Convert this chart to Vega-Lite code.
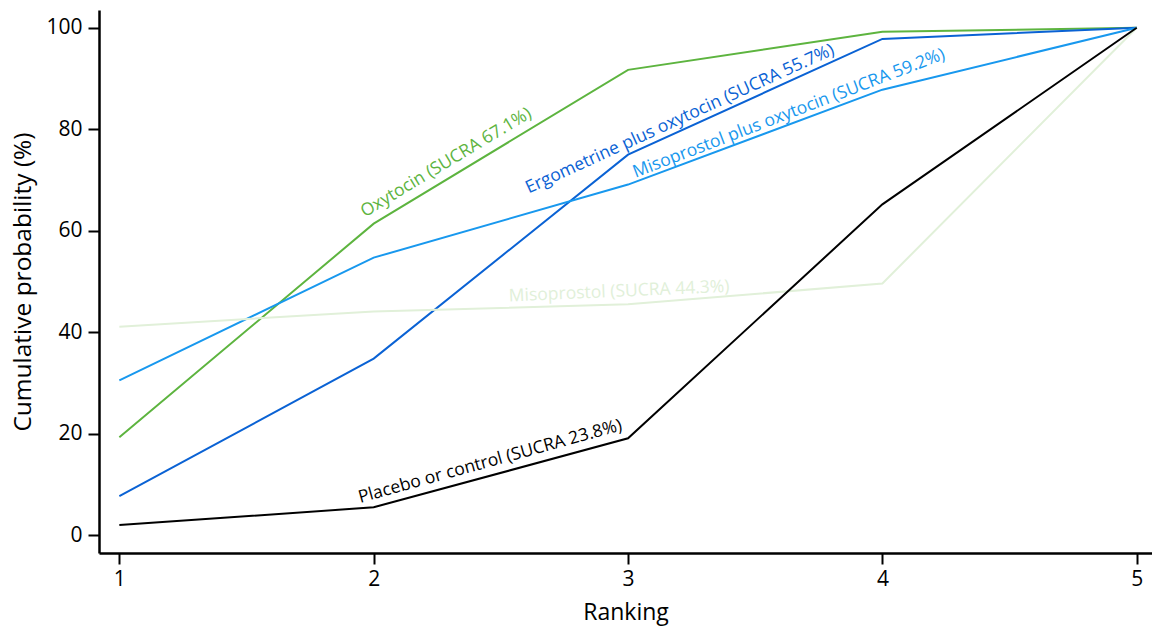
{
  "$schema": "https://vega.github.io/schema/vega-lite/v6.json",
  "autosize": {"type": "none"},
  "padding": {"left": 99, "top": 10, "right": 0, "bottom": 75},
  "width": 1053,
  "height": 543,
  "background": "white",
  "config": {
    "view": {"stroke": null},
    "font": "Open Sans",
    "axis": {
      "grid": false,
      "domainColor": "black",
      "domainWidth": 2.5,
      "tickColor": "black",
      "tickWidth": 2,
      "tickSize": 11,
      "labelFont": "Open Sans",
      "labelFontSize": 21,
      "labelColor": "black",
      "titleFont": "Open Sans",
      "titleFontWeight": "normal",
      "titleColor": "black"
    }
  },
  "datasets": {
    "curves": [
      {"series": "Oxytocin", "rank": 1, "value": 19.3},
      {"series": "Oxytocin", "rank": 2, "value": 61.4},
      {"series": "Oxytocin", "rank": 3, "value": 91.7},
      {"series": "Oxytocin", "rank": 4, "value": 99.2},
      {"series": "Oxytocin", "rank": 5, "value": 100},
      {"series": "Ergometrine plus oxytocin", "rank": 1, "value": 7.7},
      {"series": "Ergometrine plus oxytocin", "rank": 2, "value": 34.8},
      {"series": "Ergometrine plus oxytocin", "rank": 3, "value": 75.0},
      {"series": "Ergometrine plus oxytocin", "rank": 4, "value": 97.8},
      {"series": "Ergometrine plus oxytocin", "rank": 5, "value": 100},
      {"series": "Misoprostol plus oxytocin", "rank": 1, "value": 30.5},
      {"series": "Misoprostol plus oxytocin", "rank": 2, "value": 54.7},
      {"series": "Misoprostol plus oxytocin", "rank": 3, "value": 69.1},
      {"series": "Misoprostol plus oxytocin", "rank": 4, "value": 87.8},
      {"series": "Misoprostol plus oxytocin", "rank": 5, "value": 100},
      {"series": "Misoprostol", "rank": 1, "value": 41.1},
      {"series": "Misoprostol", "rank": 2, "value": 44.1},
      {"series": "Misoprostol", "rank": 3, "value": 45.5},
      {"series": "Misoprostol", "rank": 4, "value": 49.6},
      {"series": "Misoprostol", "rank": 5, "value": 100},
      {"series": "Placebo or control", "rank": 1, "value": 2.0},
      {"series": "Placebo or control", "rank": 2, "value": 5.5},
      {"series": "Placebo or control", "rank": 3, "value": 19.1},
      {"series": "Placebo or control", "rank": 4, "value": 65.2},
      {"series": "Placebo or control", "rank": 5, "value": 100}
    ],
    "labels": [
      {"series": "Oxytocin", "rank": 2.285, "value": 73.4, "label": "Oxytocin (SUCRA 67.1%)"},
      {"series": "Ergometrine plus oxytocin", "rank": 3.204, "value": 82.0, "label": "Ergometrine plus oxytocin (SUCRA 55.7%)"},
      {"series": "Misoprostol plus oxytocin", "rank": 3.633, "value": 83.1, "label": "Misoprostol plus oxytocin (SUCRA 59.2%)"},
      {"series": "Misoprostol", "rank": 2.965, "value": 48.0, "label": "Misoprostol (SUCRA 44.3%)"},
      {"series": "Placebo or control", "rank": 2.458, "value": 14.5, "label": "Placebo or control (SUCRA 23.8%)"}
    ]
  },
  "encoding": {
    "x": {
      "field": "rank", "type": "quantitative",
      "scale": {"domain": [0.92, 5.06], "nice": false, "zero": false},
      "axis": {"values": [1, 2, 3, 4, 5], "format": "d", "title": "Ranking", "titleFontSize": 23, "labelPadding": 4, "titlePadding": 12}
    },
    "y": {
      "field": "value", "type": "quantitative",
      "scale": {"domain": [-3.5, 103.5], "nice": false, "zero": false},
      "axis": {"values": [0, 20, 40, 60, 80, 100], "title": "Cumulative probability (%)", "titleFontSize": 24.5, "labelPadding": 6, "titlePadding": 10}
    },
    "color": {
      "field": "series", "type": "nominal", "legend": null,
      "scale": {
        "domain": ["Oxytocin", "Ergometrine plus oxytocin", "Misoprostol plus oxytocin", "Misoprostol", "Placebo or control"],
        "range": ["#5db43f", "#0a62d4", "#1898ee", "#e1f0d9", "#000000"]
      }
    }
  },
  "layer": [
    {"data": {"name": "curves"}, "mark": {"type": "line", "strokeWidth": 2}, "encoding": {"detail": {"field": "series"}}},
    {"data": {"name": "labels"}, "transform": [{"filter": "datum.series === 'Oxytocin'"}], "mark": {"type": "text", "fontSize": 17.5, "angle": -31, "align": "center", "baseline": "middle"}, "encoding": {"text": {"field": "label"}}},
    {"data": {"name": "labels"}, "transform": [{"filter": "datum.series === 'Ergometrine plus oxytocin'"}], "mark": {"type": "text", "fontSize": 17.5, "angle": -24.5, "align": "center", "baseline": "middle"}, "encoding": {"text": {"field": "label"}}},
    {"data": {"name": "labels"}, "transform": [{"filter": "datum.series === 'Misoprostol plus oxytocin'"}], "mark": {"type": "text", "fontSize": 17.5, "angle": -21, "align": "center", "baseline": "middle"}, "encoding": {"text": {"field": "label"}}},
    {"data": {"name": "labels"}, "transform": [{"filter": "datum.series === 'Misoprostol'"}], "mark": {"type": "text", "fontSize": 17.5, "angle": -2.5, "align": "center", "baseline": "middle"}, "encoding": {"text": {"field": "label"}}},
    {"data": {"name": "labels"}, "transform": [{"filter": "datum.series === 'Placebo or control'"}], "mark": {"type": "text", "fontSize": 17.5, "angle": -15.5, "align": "center", "baseline": "middle"}, "encoding": {"text": {"field": "label"}}}
  ]
}
